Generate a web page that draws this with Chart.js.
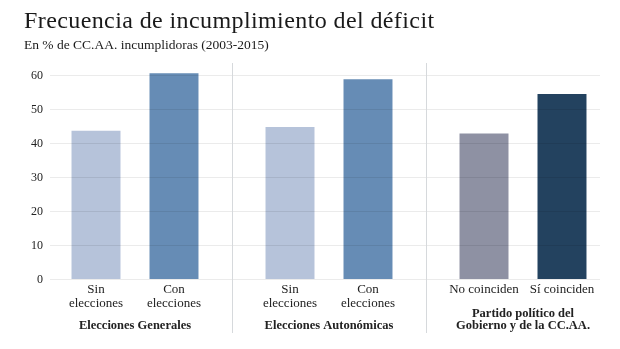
<!DOCTYPE html>
<html lang="es">
<head>
<meta charset="utf-8">
<title>Frecuencia de incumplimiento del déficit</title>
<script src="https://cdn.jsdelivr.net/npm/chart.js@4/dist/chart.umd.min.js"></script>
<style>
  html, body { margin: 0; padding: 0; background: #ffffff; }
  #wrap { position: relative; width: 620px; height: 349px; }
</style>
</head>
<body>
<div id="wrap"><canvas id="chart" width="620" height="349"></canvas></div>
<script>
// Grupos de comparación (rótulo en una o dos líneas)
const groups = [
  ["Elecciones Generales"],
  ["Elecciones Autonómicas"],
  ["Partido político del", "Gobierno y de la CC.AA."]
];
// Rótulo de cada barra dentro de su grupo
const firstLabels = [["Sin", "elecciones"], ["Sin", "elecciones"], ["No coinciden"]];
const secondLabels = [["Con", "elecciones"], ["Con", "elecciones"], ["Sí coinciden"]];
// % de CC.AA. incumplidoras (2003-2015)
const firstValues = [43.6, 44.7, 42.8];
const secondValues = [60.5, 58.7, 54.4];
// Marcas del eje vertical
const yTicks = [0, 10, 20, 30, 40, 50, 60];

const firstColors = ["#b6c3da", "#b6c3da", "#8e91a3"];
const secondColors = ["#668cb5", "#668cb5", "#23425f"];

const SERIF = '"Liberation Serif", "DejaVu Serif", serif';

const decor = {
  id: "decor",
  afterDraw(chart) {
    const { ctx, chartArea, scales } = chart;
    const x = scales.x, y = scales.y;
    const m0 = chart.getDatasetMeta(0), m1 = chart.getDatasetMeta(1);
    ctx.save();

    // Título y subtítulo
    ctx.fillStyle = "#1a1a1a";
    ctx.textAlign = "left";
    ctx.textBaseline = "alphabetic";
    ctx.font = "24px " + SERIF;
    ctx.letterSpacing = "0.4px";
    ctx.fillText("Frecuencia de incumplimiento del déficit", 24, 28);
    ctx.letterSpacing = "0px";
    ctx.font = "13.5px " + SERIF;
    ctx.fillText("En % de CC.AA. incumplidoras (2003-2015)", 24, 49);

    // Líneas de referencia horizontales y sus valores
    const gx0 = chartArea.left + 12, gx1 = chartArea.right - 20;
    ctx.lineWidth = 1;
    ctx.strokeStyle = "rgba(0,0,0,0.08)";
    ctx.font = "12px " + SERIF;
    ctx.textAlign = "right";
    ctx.textBaseline = "middle";
    yTicks.forEach(v => {
      const py = Math.round(y.getPixelForValue(v)) + 0.5;
      ctx.beginPath();
      ctx.moveTo(gx0, py);
      ctx.lineTo(gx1, py);
      ctx.stroke();
      ctx.fillStyle = "#222";
      ctx.fillText(String(v), 43, py);
    });

    // Separadores verticales entre grupos
    ctx.strokeStyle = "#d6d9dc";
    for (let i = 0; i < groups.length - 1; i++) {
      const sx = Math.round((m1.data[i].x + m0.data[i + 1].x) / 2) + 0.5;
      ctx.beginPath();
      ctx.moveTo(sx, chartArea.top);
      ctx.lineTo(sx, chartArea.bottom + 54);
      ctx.stroke();
    }

    // Rótulos de cada barra
    ctx.fillStyle = "#222";
    ctx.textAlign = "center";
    ctx.font = "13px " + SERIF;
    const drawLines = (lines, cx, top, lh) => {
      lines.forEach((t, k) => ctx.fillText(t, cx, top + k * lh));
    };
    groups.forEach((g, i) => {
      drawLines(firstLabels[i], m0.data[i].x, chartArea.bottom + 10.5, 14);
      drawLines(secondLabels[i], m1.data[i].x, chartArea.bottom + 10.5, 14);
    });

    // Rótulos de grupo
    ctx.font = "bold 12.5px " + SERIF;
    groups.forEach((g, i) => {
      const cx = x.getPixelForValue(i);
      const top = chartArea.bottom + 46.5 - (g.length - 1) * 12;
      drawLines(g, cx, top, 12);
    });
    ctx.restore();
  }
};

new Chart(document.getElementById("chart"), {
  type: "bar",
  data: {
    labels: groups.map(g => g.join(" ")),
    datasets: [
      { data: firstValues, backgroundColor: firstColors },
      { data: secondValues, backgroundColor: secondColors }
    ]
  },
  options: {
    responsive: false,
    animation: false,
    devicePixelRatio: 1,
    layout: { padding: { left: 38, right: 0, top: 63, bottom: 70 } },
    categoryPercentage: 0.804,
    barPercentage: 0.628,
    plugins: { legend: { display: false }, tooltip: { enabled: false } },
    scales: {
      x: { display: false },
      y: { display: false, min: 0, max: 63.5 }
    }
  },
  plugins: [decor]
});
</script>
</body>
</html>
